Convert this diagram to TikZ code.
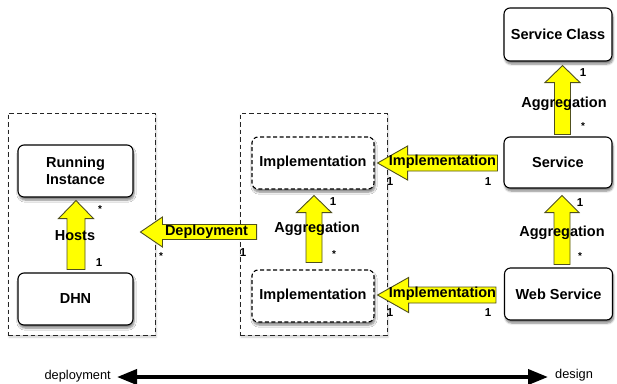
\documentclass[tikz,border=0pt]{standalone}
\usepackage{fontspec}
\setmainfont{Liberation Sans}
\usetikzlibrary{calc,arrows.meta,shadows.blur}

\definecolor{arrowfill}{RGB}{255,255,0}
\definecolor{arrowedge}{RGB}{80,80,30}

\tikzset{
  box/.style={draw=black, line width=1.1pt, rounded corners=6pt, fill=white,
    inner sep=0pt, align=center, font=\fontsize{14.5}{17.5}\selectfont\bfseries,
    blur shadow={shadow xshift=1pt, shadow yshift=-3pt, shadow blur steps=6, shadow opacity=50}},
  dbox/.style={box, dashed, dash pattern=on 4pt off 2.5pt},
  group/.style={draw=black!85, line width=0.9pt, dash pattern=on 4.5pt off 3pt, fill=white,
    inner sep=0pt, blur shadow={shadow xshift=1pt, shadow yshift=-2pt, shadow blur steps=5, shadow opacity=20}},
  blockarrow/.style={fill=arrowfill, draw=arrowedge, line width=0.9pt, line join=miter},
  lbl/.style={font=\fontsize{14.5}{17}\selectfont\bfseries, inner sep=0pt},
  card/.style={font=\fontsize{11.5}{13}\selectfont\bfseries, inner sep=0pt},
  star/.style={font=\fontsize{10}{12}\selectfont\bfseries, inner sep=0pt},
  axislabel/.style={font=\fontsize{12.8}{15}\selectfont, inner sep=0pt},
}

% upward block arrow: tail point, tip point, shaft half width, head half width, head length
\newcommand{\upblock}[5]{%
  \filldraw[blockarrow] let \p1=(#1), \p2=(#2) in
    (\x1-#3,\y1) -- (\x1-#3,\y2-#5) -- (\x1-#4,\y2-#5) -- (\x1,\y2)
    -- (\x1+#4,\y2-#5) -- (\x1+#3,\y2-#5) -- (\x1+#3,\y1) -- cycle;}
% leftward block arrow: tail point, tip point, shaft half width, head half width, head length
\newcommand{\leftblock}[5]{%
  \filldraw[blockarrow] let \p1=(#1), \p2=(#2) in
    (\x1,\y1-#3) -- (\x2+#5,\y1-#3) -- (\x2+#5,\y1-#4) -- (\x2,\y1)
    -- (\x2+#5,\y1+#4) -- (\x2+#5,\y1+#3) -- (\x1,\y1+#3) -- cycle;}

\begin{document}
\begin{tikzpicture}[x=1pt, y=-1pt]
\useasboundingbox (0,0) rectangle (617,383);

% grouping frames
\node[group, minimum width=147pt, minimum height=222pt] (leftgrp) at (81.5,224) {};
\node[group, minimum width=147pt, minimum height=222pt] (midgrp) at (313.5,224) {};

% classes
\node[box, minimum width=115pt, minimum height=52pt] (ri) at (75.5,171) {Running\\Instance};
\node[box, minimum width=115pt, minimum height=52pt] (dhn) at (75.5,299) {DHN};
\node[dbox, minimum width=122pt, minimum height=52pt] (impl1) at (313,163) {Implementation};
\node[dbox, minimum width=122pt, minimum height=52pt] (impl2) at (313,296) {Implementation};
\node[box, minimum width=108pt, minimum height=53pt] (sc) at (558,34.5) {Service Class};
\node[box, minimum width=108pt, minimum height=51pt] (svc) at (558,162.5) {Service};
\node[box, minimum width=108pt, minimum height=52pt] (ws) at (558.5,294) {Web Service};

% relations
\upblock{$(dhn.north)+(0.5,-3)$}{$(ri.south)+(0.5,3)$}{9pt}{17.5pt}{18pt}
\upblock{$(impl2.north)+(1,-7)$}{$(impl1.south)+(1,6)$}{8pt}{17.5pt}{17pt}
\upblock{$(svc.north)+(4.5,-2)$}{$(sc.south)+(4.5,4)$}{8pt}{17.5pt}{17pt}
\upblock{$(ws.north)+(3.5,-3)$}{$(svc.south)+(3.5,7)$}{8pt}{17pt}{17pt}
\leftblock{$(midgrp.west)+(17,8)$}{$(leftgrp.east)+(-15,8)$}{7.5pt}{15pt}{22pt}
\leftblock{$(svc.west)+(-6,0.5)$}{$(impl1.east)+(3,0)$}{8pt}{17pt}{30pt}
\leftblock{$(ws.west)+(-8,1)$}{$(impl2.east)+(3,0)$}{8pt}{17.5pt}{31pt}

% relation names
\node[lbl] (hosts) at (75,236) {Hosts};
\node[lbl] (deploy) at (206.5,232) {Deployment};
\node[lbl] (aggmid) at (317,229) {Aggregation};
\node[lbl] (impltop) at (442.5,161.5) {Implementation};
\node[lbl] (implbot) at (442.5,294) {Implementation};
\node[lbl] (aggtop) at (564,104) {Aggregation};
\node[lbl] (aggbot) at (562,233) {Aggregation};

% multiplicities
\node[star] (m1) at (100,209) {*};
\node[card] (m2) at (99,263) {1};
\node[star] (m3) at (161,256) {*};
\node[card] (m4) at (243,253) {1};
\node[card] (m5) at (333,202) {1};
\node[star] (m6) at (334,254) {*};
\node[card] (m7) at (390,182) {1};
\node[card] (m8) at (488,182) {1};
\node[card] (m9) at (390,313) {1};
\node[card] (m10) at (488,313) {1};
\node[card] (m11) at (583,73) {1};
\node[star] (m12) at (583,126) {*};
\node[card] (m13) at (580,203) {1};
\node[star] (m14) at (580,256) {*};

% deployment--design axis
\node[axislabel, anchor=east] (dep) at (111,376) {deployment};
\node[axislabel, anchor=west] (des) at (555,375) {design};
\draw[line width=3.8pt, {Triangle[length=20pt,width=15pt]}-{Triangle[length=20pt,width=15pt]}]
  ($(dep.east)+(6,1)$) -- ($(des.west)+(-7,2)$);
\end{tikzpicture}
\end{document}
